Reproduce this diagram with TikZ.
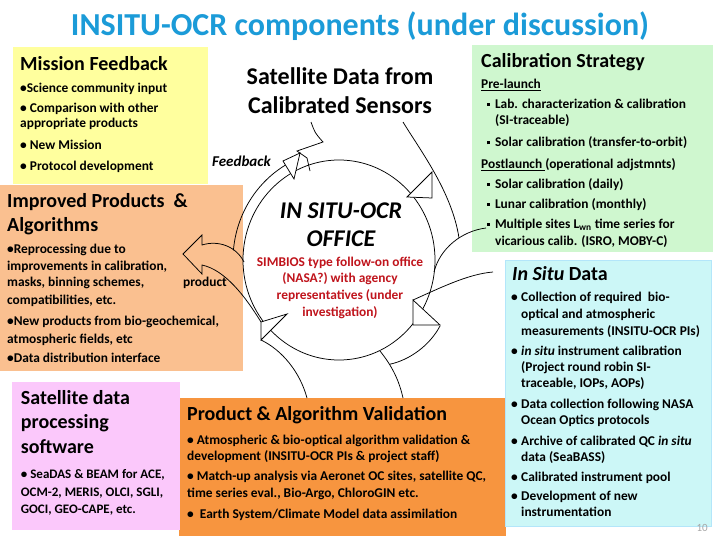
\documentclass[tikz,border=0pt]{standalone}
\usepackage{fontspec}
\setmainfont{Carlito}
\definecolor{ttl}{HTML}{1B9BD8}
\definecolor{yel}{HTML}{FFFF9E}
\definecolor{peach}{HTML}{FAC090}
\definecolor{grn}{HTML}{CFF7CF}
\definecolor{cyn}{HTML}{CCF7F7}
\definecolor{pnk}{HTML}{FBC8FB}
\definecolor{org}{HTML}{F7953F}
\definecolor{rd}{HTML}{C0141C}
\newcommand\sqb{\raisebox{2.4pt}{\rule{2.8pt}{2.8pt}}}
\newcommand\bul{\llap{•\hspace{3.5pt}}}
\begin{document}
\begin{tikzpicture}[x=1pt,y=-1pt,
  tx/.style={anchor=base west,inner sep=0pt,font=\bfseries\fontsize{13.4}{15}\selectfont},
  hd/.style={anchor=base west,inner sep=0pt,font=\bfseries\fontsize{20}{22}\selectfont},
  ctr/.style={anchor=base,inner sep=0pt},
  ln/.style={line width=0.75pt},
  hed/.style={draw,line width=0.75pt,fill=white,line join=miter}]
\useasboundingbox[fill=white] (0,0) rectangle (720,540);
% panels
\fill[yel] (13,47) rectangle (208,184);
\fill[peach] (0,185) rectangle (243,371);
\fill[grn] (472,45) rectangle (713,252);
\fill[org] (179,398) rectangle (506,536);
\fill[cyn] (505,260) rectangle (711,526);
\draw[cyan!30,line width=0.6pt] (505,260) rectangle (711,526);
\fill[pnk] (12,382) rectangle (180,530);
% cycle of arrows
\draw[ln] (339,260) ellipse [x radius=96, y radius=100];
\draw[ln] (339,260) ++(185:106 and 110) arc [start angle=185, end angle=241, x radius=106, y radius=110];
\draw[hed] (283,161) -- (300,153) -- (294,179) -- cycle;
\draw[ln] (311,122) .. controls (315,133) .. (323,142) -- (297,151) -- (307,158) -- (310,171);
\draw[ln] (403,122) .. controls (420,150) and (452,192) .. (459,238);
\draw[hed] (407,197) -- (432,172) -- (432,198) -- cycle;
\draw[ln] (486,228) .. controls (462,231) and (440,248) .. (434,272);
\draw[ln] (493,272) .. controls (468,274) and (440,288) .. (413,300);
\draw[ln] (403,398) .. controls (399,380) and (392,366) .. (380,351);
\draw[ln] (440,326) .. controls (430,345) and (410,360) .. (389.5,364.3);
\draw[hed] (413,300) -- (413,325) -- (440,325) -- cycle;
\draw[ln] (307,398) .. controls (300,372) and (282,350) .. (261,340);
\draw[hed] (261,340) -- (261,322) -- (287,314) -- cycle;
\draw[ln] (244,262) .. controls (236,246) and (218,240) .. (202,245) -- (202,235) -- (183,254) -- (202,274) -- (202,265) .. controls (225,270) and (245,296) .. (261,322);
% title
\node[ctr,font=\bfseries\fontsize{32}{34}\selectfont,text=ttl] (title) at (360,36) {INSITU-OCR components (under discussion)};
% mission feedback
\node[hd] (mfh) at (20,70.7) {Mission Feedback};
\foreach \yv/\txt [count=\i] in {92.7/{•Science community input},112.7/{• Comparison with other},128/{appropriate products},150/{• New Mission},170.5/{• Protocol development}}
  \node[tx] (mf\i) at (20,\yv) {\txt};
% satellite data
\node[ctr,font=\bfseries\fontsize{24}{26}\selectfont] (sd1) at (340,85) {Satellite Data from};
\node[ctr,font=\bfseries\fontsize{24}{26}\selectfont] (sd2) at (340,113.3) {Calibrated Sensors};
\node[anchor=base west,inner sep=0pt,font=\bfseries\itshape\fontsize{15}{17}\selectfont] (fb) at (212,166.7) {Feedback};
% improved products
\node[hd] (iph1) at (7,207.7) {Improved Products\ \ \&};
\node[hd] (iph2) at (7,231.5) {Algorithms};
\foreach \yv/\txt [count=\i] in {253.3/{•Reprocessing due to},270/{improvements in calibration,},286.7/{masks, binning schemes,},304/{compatibilities, etc.},325/{•New products from bio-geochemical,},343.3/{atmospheric fields, etc},362.7/{•Data distribution interface}}
  \node[tx] (ip\i) at (7,\yv) {\txt};
\node[tx] (ipp) at (183,286.7) {product};
% office
\node[ctr,font=\bfseries\itshape\fontsize{24}{26}\selectfont] (off1) at (341,218.3) {IN SITU-OCR};
\node[ctr,font=\bfseries\itshape\fontsize{24}{26}\selectfont] (off2) at (341,246.7) {OFFICE};
\foreach \yv/\txt [count=\i] in {266/{SIMBIOS type follow-on office},282.7/{(NASA?) with agency},299.3/{representatives (under},316/{investigation)}}
  \node[ctr,font=\bfseries\fontsize{13.4}{15}\selectfont,text=rd] (red\i) at (340,\yv) {\txt};
% calibration strategy
\node[hd] (csh) at (481,67.3) {Calibration Strategy};
\node[tx] (cs1) at (481,88.3) {\underline{Pre-launch}};
\node[tx] (cs2) at (487,108.3) {\sqb\hspace{5pt}Lab. characterization \& calibration};
\node[tx] (cs3) at (495,125) {(SI-traceable)};
\node[tx] (cs4) at (487,146.7) {\sqb\hspace{5pt}Solar calibration (transfer-to-orbit)};
\node[tx] (cs5) at (481,168.3) {\underline{Postlaunch\ }(operational adjstmnts)};
\node[tx] (cs6) at (487,188.3) {\sqb\hspace{5pt}Solar calibration (daily)};
\node[tx] (cs7) at (487,208.3) {\sqb\hspace{5pt}Lunar calibration (monthly)};
\node[tx] (cs8) at (487,228.3) {\sqb\hspace{5pt}Multiple sites L\textsubscript{wn} time series for};
\node[tx] (cs9) at (495,245) {vicarious calib. (ISRO, MOBY-C)};
% in situ data
\node[hd] (ish) at (512,280) {\textit{In Situ} Data};
\foreach \yv/\txt [count=\i] in {301.7/{\bul Collection of required\ \ bio-},318.3/{optical and atmospheric},335/{measurements (INSITU-OCR PIs)},355/{\bul\textit{in situ} instrument calibration},371.7/{(Project round robin SI-},387.7/{traceable, IOPs, AOPs)},408.3/{\bul Data collection following NASA},424.3/{Ocean Optics protocols},445/{\bul Archive of calibrated QC \textit{in situ}},461.7/{data (SeaBASS)},481.7/{\bul Calibrated instrument pool},500/{\bul Development of new},516.7/{instrumentation}}
  \node[tx] (is\i) at (521,\yv) {\txt};
% satellite processing software
\node[hd] (sp1) at (20.7,404.3) {Satellite data};
\node[hd] (sp2) at (20.7,428.5) {processing};
\node[hd] (sp3) at (20.7,453) {software};
\node[tx,font=\bfseries\fontsize{13}{15}\selectfont] (sp4) at (20.7,478) {• SeaDAS \& BEAM for ACE,};
\node[tx,font=\bfseries\fontsize{13}{15}\selectfont] (sp5) at (20.7,496) {OCM-2, MERIS, OLCI, SGLI,};
\node[tx,font=\bfseries\fontsize{13}{15}\selectfont] (sp6) at (20.7,513) {GOCI, GEO-CAPE, etc.};
% product validation
\node[hd] (pvh) at (187,420.7) {Product \& Algorithm Validation};
\node[tx] (pv1) at (187,444) {• Atmospheric \& bio-optical algorithm validation \&};
\node[tx] (pv2) at (187,460) {development (INSITU-OCR PIs \& project staff)};
\node[tx] (pv3) at (187,480.7) {• Match-up analysis via Aeronet OC sites, satellite QC,};
\node[tx] (pv4) at (187,497.3) {time series eval., Bio-Argo, ChloroGIN etc.};
\node[tx] (pv5) at (187,518.3) {•\ \ Earth System/Climate Model data assimilation};
% page number
\node[anchor=base east,inner sep=0pt,font=\fontsize{11}{12}\selectfont,text=gray!70] (pg) at (708,531) {10};
\end{tikzpicture}
\end{document}
